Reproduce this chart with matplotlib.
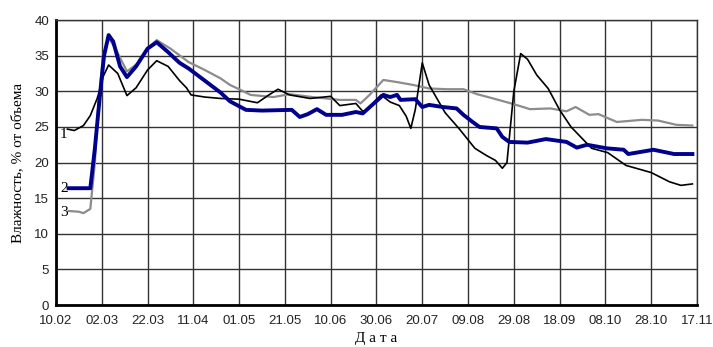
import matplotlib
matplotlib.use("Agg")
import matplotlib.pyplot as plt

# days since 10.02
date_labels = ["10.02", "02.03", "22.03", "11.04", "01.05", "21.05", "10.06", "30.06",
               "20.07", "09.08", "29.08", "18.09", "08.10", "28.10", "17.11"]

days1 = [5, 8, 12, 15, 18, 19.5, 20.5, 23, 27, 31, 35, 40, 44, 49, 54, 57, 59, 65, 72, 80,
         88, 93, 97, 102, 111, 120, 124, 131, 134, 136, 139, 142, 146, 150, 153, 155, 157,
         160, 163, 170, 176, 183, 188, 192, 195, 197, 200, 203, 206, 210, 215, 220, 225,
         234, 241, 249, 260, 268, 273, 278]
hum1 = [24.7, 24.5, 25.2, 26.6, 29.0, 30.6, 32.0, 33.7, 32.5, 29.4, 30.5, 33.0, 34.3, 33.5,
        31.5, 30.5, 29.5, 29.2, 29.0, 28.9, 28.4, 29.5, 30.3, 29.5, 29.0, 29.3, 28.0, 28.3,
        27.2, 27.4, 28.5, 29.5, 28.5, 28.0, 26.5, 24.8, 27.5, 34.0, 30.9, 27.0, 24.8, 22.0,
        21.0, 20.3, 19.2, 20.0, 30.0, 35.3, 34.5, 32.3, 30.4, 27.4, 25.0, 22.0, 21.4, 19.6,
        18.6, 17.3, 16.8, 17.0]

days2 = [5.5, 15, 17, 19, 21, 23, 25, 28, 31, 35, 40, 44, 49, 54, 58, 65, 72, 76, 83, 90,
         103, 106.5, 110, 114, 118, 125, 131, 134, 143, 146, 149, 150.5, 157, 160, 163, 169,
         175, 178, 182, 185, 192.5, 195, 198, 206, 214, 223, 227.5, 232, 240.6, 248, 250,
         261, 270, 278]
hum2 = [16.4, 16.4, 22.0, 28.8, 35.0, 37.9, 37.0, 33.5, 32.0, 33.5, 36.0, 36.9, 35.5, 34.0,
        33.2, 31.5, 29.8, 28.6, 27.4, 27.3, 27.4, 26.4, 26.8, 27.5, 26.7, 26.7, 27.1, 26.9,
        29.5, 29.2, 29.5, 28.8, 28.9, 27.8, 28.1, 27.8, 27.6, 26.7, 25.7, 25.0, 24.8, 23.6,
        22.9, 22.8, 23.3, 22.9, 22.1, 22.5, 22.0, 21.8, 21.2, 21.8, 21.2, 21.2]

days3 = [5.5, 10, 12, 15, 17, 18.5, 20.5, 23, 26, 31, 36, 40, 44, 50, 58, 65, 72, 76, 80,
         85, 95, 102, 112, 124, 131, 133, 137, 143, 149, 156, 163, 171, 178, 184, 191, 200,
         207, 216, 223, 227, 233, 237, 245, 256, 263, 271, 278]
hum3 = [13.2, 13.1, 12.9, 13.5, 20.0, 28.0, 35.0, 37.5, 36.0, 32.8, 34.0, 36.0, 37.2, 36.0,
        34.1, 33.0, 31.8, 30.9, 30.3, 29.5, 29.2, 29.6, 29.2, 28.8, 28.8, 28.3, 29.5, 31.6,
        31.3, 30.9, 30.4, 30.3, 30.3, 29.6, 29.0, 28.2, 27.5, 27.6, 27.2, 27.8, 26.7, 26.8,
        25.7, 26.0, 25.9, 25.3, 25.2]

fig = plt.figure(figsize=(7.13, 3.47), dpi=100)
ax = fig.add_axes([0.0785, 0.121, 0.899, 0.821])

ax.plot(days3, hum3, color="#8c8c8c", lw=1.6, zorder=3)
ax.plot(days1, hum1, color="black", lw=1.2, zorder=4)
ax.plot(days2, hum2, color="#00008c", lw=2.8, zorder=5)

serif = "Liberation Serif"
ax.text(3.5, 24.0, "1", fontsize=11, family=serif, ha="center", va="center")
ax.text(3.5, 16.4, "2", fontsize=11, family=serif, ha="center", va="center")
ax.text(3.5, 13.0, "3", fontsize=11, family=serif, ha="center", va="center")

ax.set_xlim(0, 280)
ax.set_ylim(0, 40)
ax.set_xticks(range(0, 281, 20))
ax.set_xticklabels(date_labels)
ax.set_yticks(range(0, 41, 5))
ax.grid(True, color="#333333", lw=1.0)
ax.set_axisbelow(True)
ax.tick_params(length=0, labelsize=9.5, labelcolor="#222222")
ax.tick_params(axis="x", pad=7)
ax.tick_params(axis="y", pad=5)
for lab in ax.get_xticklabels() + ax.get_yticklabels():
    lab.set_family("Liberation Sans")

for s in ["left", "bottom"]:
    ax.spines[s].set_linewidth(2)
for s in ["top", "right"]:
    ax.spines[s].set_linewidth(1)
    ax.spines[s].set_color("#333333")

ax.set_xlabel("Д а т а", family=serif, fontsize=11, labelpad=4)
ax.set_ylabel("Влажность, % от объема", family=serif, fontsize=11, labelpad=7)

fig.savefig("out.png", dpi=100)
